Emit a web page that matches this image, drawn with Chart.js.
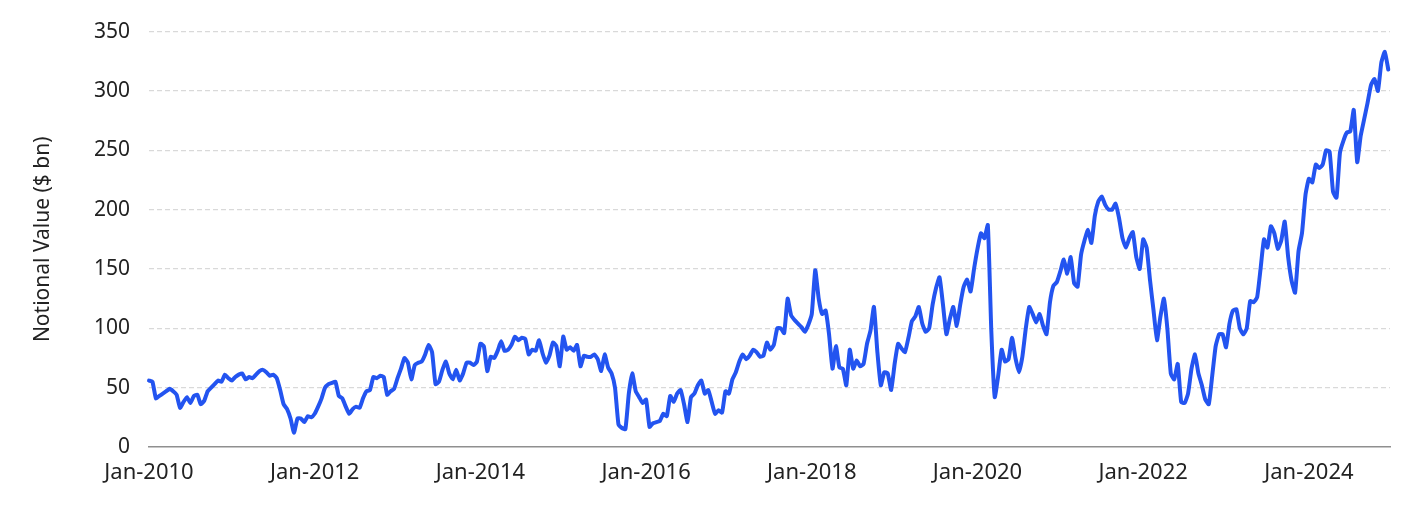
<!DOCTYPE html>
<html>
<head>
<meta charset="utf-8">
<script src="https://cdn.jsdelivr.net/npm/chart.js@4/dist/chart.umd.min.js"></script>
<style>
  body { margin: 0; background: #fff; }
  #wrap { width: 1408px; height: 513px; }
</style>
</head>
<body>
<div id="wrap"><canvas id="myChart_notional"></canvas></div>
<script>
// half-monthly readings, Jan-2010 .. Dec-2024 ($ bn)
const startYear = 2010;
const pointsPerYear = 24;
const notional = [
    56, 55, 41, 43, 45, 47, 49, 47, 44, 33, 38, 42, 37, 43, 44, 36, 39, 47, 50, 53, 56, 55, 61, 58, // 2010
    56, 59, 61, 62, 57, 59, 58, 61, 64, 65, 63, 60, 61, 58, 48, 36, 32, 24, 12, 24, 24, 21, 26, 25, // 2011
    28, 34, 41, 50, 53, 54, 55, 43, 41, 34, 28, 32, 34, 33, 41, 47, 48, 59, 58, 60, 59, 44, 47, 49, // 2012
    58, 66, 75, 71, 57, 69, 71, 72, 78, 86, 80, 53, 55, 65, 72, 62, 57, 65, 56, 62, 71, 71, 69, 72, // 2013
    87, 85, 64, 76, 75, 81, 89, 81, 82, 86, 93, 90, 92, 91, 78, 82, 81, 90, 79, 71, 77, 88, 85, 68, // 2014
    93, 82, 84, 81, 86, 68, 77, 76, 76, 78, 74, 64, 78, 67, 62, 50, 19, 16, 15, 45, 62, 47, 42, 37, // 2015
    40, 17, 20, 21, 22, 28, 26, 43, 38, 45, 48, 36, 21, 42, 45, 52, 56, 45, 48, 38, 28, 31, 29, 47, // 2016
    45, 57, 63, 72, 78, 74, 77, 82, 80, 76, 77, 88, 82, 86, 100, 100, 96, 125, 111, 107, 104, 101, 97, 103, // 2017
    112, 149, 125, 112, 115, 95, 66, 85, 67, 66, 52, 82, 66, 73, 68, 70, 87, 98, 118, 80, 52, 63, 62, 48, // 2018
    70, 87, 83, 80, 92, 106, 110, 118, 104, 97, 100, 120, 134, 143, 120, 95, 108, 118, 102, 120, 135, 141, 131, 150, // 2019
    167, 180, 176, 187, 98, 42, 60, 82, 72, 74, 92, 75, 63, 76, 100, 118, 112, 105, 112, 102, 95, 122, 136, 139, // 2020
    148, 158, 146, 160, 138, 135, 162, 174, 183, 172, 195, 207, 211, 204, 200, 200, 205, 193, 176, 168, 176, 181, 160, 150, // 2021
    175, 168, 140, 115, 90, 110, 125, 100, 62, 57, 70, 38, 37, 45, 66, 78, 62, 52, 40, 36, 60, 85, 95, 95, // 2022
    84, 104, 115, 116, 100, 95, 100, 123, 122, 126, 150, 175, 168, 186, 180, 167, 174, 190, 160, 140, 130, 165, 180, 212, // 2023
    226, 223, 238, 235, 238, 250, 249, 215, 210, 248, 258, 265, 266, 284, 240, 262, 276, 290, 305, 310, 300, 324, 333, 318  // 2024
];
const tickYears = [2010, 2012, 2014, 2016, 2018, 2020, 2022, 2024];
const yTicks = [0, 50, 100, 150, 200, 250, 300, 350];

const points = notional.map(function(v, i) {
    return { x: i, y: v };
});

const fontFamily = "'Noto Sans', 'Open Sans', sans-serif";

const config = {
    type: 'line',
    data: {
        datasets: [{
            label: 'Notional Value ($ bn)',
            data: points,
            borderColor: '#2354f0',
            borderWidth: 4,
            pointRadius: 0,
            tension: 0.15,
            borderJoinStyle: 'round',
            borderCapStyle: 'round',
            clip: false,
            fill: false
        }]
    },
    options: {
        responsive: true,
        maintainAspectRatio: false,
        animation: false,
        layout: {
            padding: { left: 26, right: 18, top: 31, bottom: 0 }
        },
        plugins: {
            legend: { display: false },
            tooltip: { enabled: false }
        },
        scales: {
            x: {
                type: 'linear',
                min: 0,
                max: 359.5,
                afterFit: function(s) { s.height = 66; },
                afterBuildTicks: function(s) {
                    s.ticks = tickYears.map(function(y) {
                        return { value: (y - startYear) * pointsPerYear };
                    });
                },
                ticks: {
                    padding: 13,
                    color: '#222',
                    font: { family: fontFamily, size: 22 },
                    maxRotation: 0,
                    autoSkip: false,
                    callback: function(v) {
                        return 'Jan-' + (startYear + Math.round(v / pointsPerYear));
                    }
                },
                grid: { display: false, drawTicks: false },
                border: { display: true, color: '#8f8f8f', width: 1.5 }
            },
            y: {
                min: 0,
                max: 350,
                afterFit: function(s) { s.width = 123; },
                afterBuildTicks: function(s) {
                    s.ticks = yTicks.map(function(v) { return { value: v }; });
                },
                ticks: {
                    padding: 19,
                    color: '#222',
                    font: { family: fontFamily, size: 21 }
                },
                grid: {
                    drawTicks: false,
                    color: function(ctx) {
                        return ctx.tick && ctx.tick.value === 0 ? 'rgba(0,0,0,0)' : '#d9d9d9';
                    },
                    lineWidth: 1.2
                },
                border: { display: false, dash: [5, 3] },
                title: {
                    display: true,
                    text: 'Notional Value ($ bn)',
                    color: '#222',
                    font: { family: fontFamily, size: 21 },
                    padding: { top: 4, bottom: 0 }
                }
            }
        }
    }
};

const myChart = new Chart(
    document.getElementById('myChart_notional'),
    config
);
</script>
</body>
</html>
